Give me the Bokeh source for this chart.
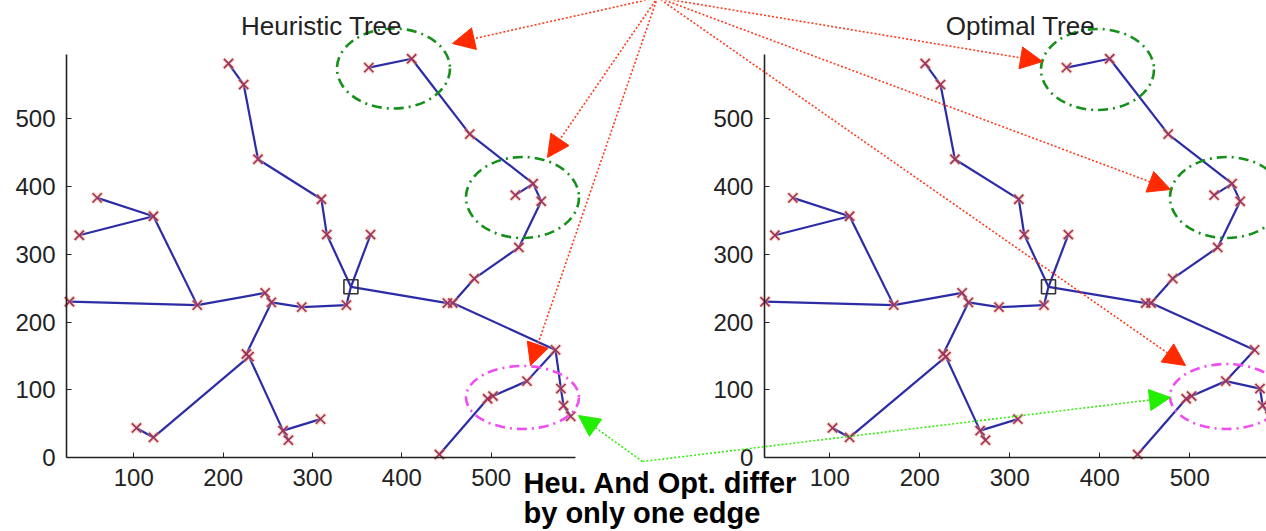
from bokeh.plotting import figure
from bokeh.models import (Range1d, LinearAxis, FixedTicker, ColumnDataSource,
                          Arrow, NormalHead, Label)
from bokeh.embed import file_html
from bokeh.resources import INLINE

# ---------------- data ----------------
node_x = [206, 223, 239, 310, 316, 365, 343, 338, 288, 254,
          247, 171, 28, 122, 59, 39, 226, 229, 103, 122,
          267, 273, 309, 451, 457, 481, 531, 556, 547, 527,
          476, 411, 363, 572, 540, 496, 502, 442, 578, 581,
          589]
node_y = [581, 550, 440, 381, 329, 329, 252, 225, 222, 229,
          243, 225, 230, 356, 383, 328, 153, 149, 44, 30,
          40, 26, 57, 228, 228, 264, 310, 378, 404, 387,
          477, 588, 575, 159, 113, 87, 91, 5, 102, 77,
          61]
root_index = 6
edges_common = [(0, 1), (1, 2), (2, 3), (3, 4), (4, 6), (5, 6), (6, 7), (7, 8),
                (8, 9), (9, 10), (10, 11), (11, 12), (11, 13), (13, 14), (13, 15),
                (9, 16), (16, 17), (17, 19), (19, 18), (17, 20), (20, 21), (20, 22),
                (6, 23), (23, 24), (24, 25), (25, 26), (26, 27), (27, 28), (28, 29),
                (28, 30), (30, 31), (31, 32), (24, 33), (33, 34), (34, 36), (36, 35),
                (35, 37), (38, 39), (39, 40)]
edges_heuristic_only = [(33, 38)]
edges_optimal_only = [(34, 38)]
x_ticks = [100, 200, 300, 400, 500]
y_ticks = [0, 100, 200, 300, 400, 500]
titles = ["Heuristic Tree", "Optimal Tree"]
note_lines = ["Heu. And Opt. differ", "by only one edge"]

# ---------------- layout constants ----------------
W, H = 1266, 531
FONT = "Liberation Sans"

def rng(px0, scale, size):
    return Range1d(-px0 / scale, (size - px0) / scale)

p = figure(width=W, height=H, output_backend="svg", toolbar_location=None,
           x_axis_type=None, y_axis_type=None, title=None,
           x_range=Range1d(0, W), y_range=Range1d(H, 0), min_border=0)
p.outline_line_color = None
p.background_fill_color = "white"
p.border_fill_color = "white"

p.extra_x_ranges = {"L": rng(43.95, 0.8935, W), "R": rng(739.3, 0.9, W)}
ry = Range1d(-(H - 457.3) / 0.6786, 457.3 / 0.6786)
p.extra_y_ranges = {"D": ry}

Y_TOP = 594
plots = [("L", 24.7, 594.3, edges_common + edges_heuristic_only),
         ("R", 27.4, 600.0, edges_common + edges_optimal_only)]

mx = [x for i, x in enumerate(node_x) if i != root_index]
my = [y for i, y in enumerate(node_y) if i != root_index]

for name, xlo, xhi, edges in plots:
    src = ColumnDataSource(dict(
        x0=[node_x[a] for a, b in edges], y0=[node_y[a] for a, b in edges],
        x1=[node_x[b] for a, b in edges], y1=[node_y[b] for a, b in edges]))
    p.segment("x0", "y0", "x1", "y1", source=src, line_color="#2c2ca6",
              line_width=2.2, x_range_name=name, y_range_name="D")
    p.scatter(mx, my, marker="x", size=14, line_color="#f2a878", line_width=4,
              line_alpha=0.45, x_range_name=name, y_range_name="D")
    p.scatter(mx, my, marker="x", size=13, line_color="#9e2f5e", line_width=1.6,
              x_range_name=name, y_range_name="D")
    p.scatter([node_x[root_index]], [node_y[root_index]], marker="square", size=14,
              fill_color=None, line_color="#333333", line_width=1.6,
              x_range_name=name, y_range_name="D")

    for side, loc, bounds, ticks in [("left", xlo, (0, Y_TOP), y_ticks),
                                     ("below", 0, (xlo, xhi), x_ticks)]:
        ax = LinearAxis(x_range_name=name, y_range_name="D", fixed_location=loc,
                        bounds=bounds, ticker=FixedTicker(ticks=ticks))
        ax.axis_line_color = "#222222"
        ax.axis_line_width = 1.6
        ax.major_tick_line_color = "#222222"
        ax.major_tick_in = 5
        ax.major_tick_out = 0
        ax.minor_tick_line_color = None
        ax.major_label_text_font = FONT
        ax.major_label_text_font_size = "24px"
        ax.major_label_text_color = "#222222"
        ax.major_label_standoff = 11
        p.add_layout(ax, side)

# ---------------- annotations (screen pixels) ----------------
green_ell = [(393, 68, 113, 80), (522, 197, 113, 81), (1097, 69, 113, 81), (1226, 197, 113, 81)]
mag_ell = [(522, 397, 113, 63), (1226, 396, 113, 65)]
p.ellipse([e[0] for e in green_ell], [e[1] for e in green_ell],
          width=[e[2] for e in green_ell], height=[e[3] for e in green_ell],
          fill_color=None, line_color="#15901a", line_width=2.6, line_dash="10 5 2 5")
p.ellipse([e[0] for e in mag_ell], [e[1] for e in mag_ell],
          width=[e[2] for e in mag_ell], height=[e[3] for e in mag_ell],
          fill_color=None, line_color="#f04cf0", line_width=2.6, line_dash="10 5 2 5")

red_origin = (657, -3)
red_tips = [(452, 43), (547, 157), (530, 365), (1042, 61), (1170, 189), (1185, 365)]
for tx, ty in red_tips:
    p.add_layout(Arrow(end=NormalHead(size=22, fill_color="#ff2a00", line_color="#ff2a00"),
                       x_start=red_origin[0], y_start=red_origin[1], x_end=tx, y_end=ty,
                       line_color="#ff3a1a", line_width=1.6, line_dash="2 2"))
green_origin = (642, 461)
green_tips = [(578, 415), (1170, 397)]
for tx, ty in green_tips:
    p.add_layout(Arrow(end=NormalHead(size=21, fill_color="#22ee00", line_color="#22ee00"),
                       x_start=green_origin[0], y_start=green_origin[1], x_end=tx, y_end=ty,
                       line_color="#33ee11", line_width=1.6, line_dash="2 2"))

for t, cx in zip(titles, [321, 1020]):
    p.add_layout(Label(x=cx, y=25, text=t, text_align="center", text_baseline="alphabetic",
                       text_font=FONT, text_font_size="26px", text_color="#222222"))

for t, by in zip(note_lines, [482, 512]):
    p.add_layout(Label(x=523, y=by, text=t, text_align="left", text_baseline="alphabetic",
                       text_font=FONT, text_font_size="29px", text_font_style="bold",
                       text_color="#000000"))

open("out.html", "w").write(file_html(p, INLINE))
